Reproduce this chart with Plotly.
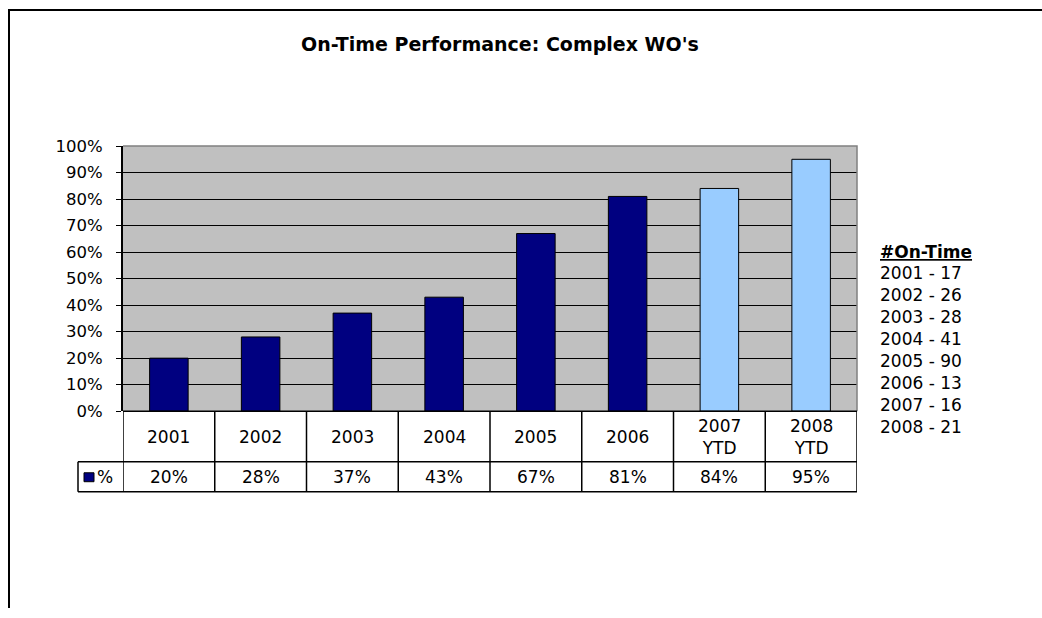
import plotly.graph_objects as go

# chart data
categories = ["2001", "2002", "2003", "2004", "2005", "2006", "2007<br>YTD", "2008<br>YTD"]
pct_on_time = [0.20, 0.28, 0.37, 0.43, 0.67, 0.81, 0.84, 0.95]
bar_colors = ["#000080"] * 6 + ["#99CCFF"] * 2
ontime_years = ["2001", "2002", "2003", "2004", "2005", "2006", "2007", "2008"]
ontime_counts = [17, 26, 28, 41, 90, 13, 16, 21]

W, H = 1042, 618
FONT = "DejaVu Sans, Liberation Sans, Arial, sans-serif"


def px_x(x):
    return x / W


def px_y(y):
    # screenshot squeezes the page a little vertically, so compensate
    yd = (y - 7) / 0.976
    yd = min(max(yd, 1), H)
    return 1 - yd / H


# plot area in pixels
L, R, T, B = 123, 857, 145, 412
ROW1, ROW2 = 463, 493

fig = go.Figure()
xs = list(range(len(categories)))
fig.add_trace(go.Bar(
    x=xs, y=pct_on_time, width=0.42,
    marker={"color": bar_colors, "line": {"color": "black", "width": 1}},
    showlegend=False, hoverinfo="y",
))

shapes = []
ann = []

# outer chart frame (left + top only visible)
shapes.append(dict(type="path", xref="paper", yref="paper",
                   path=f"M {px_x(9)},0 L {px_x(9)},{px_y(6)} L 1,{px_y(6)}",
                   line={"color": "black", "width": 2}))
# plot area top/right border
shapes.append(dict(type="path", xref="paper", yref="paper",
                   path=f"M {px_x(L)},{px_y(T)} L {px_x(R)},{px_y(T)} L {px_x(R)},{px_y(B)}",
                   line={"color": "#808080", "width": 1.5}))

# data table
line = {"color": "black", "width": 1.5}
shapes.append(dict(type="line", xref="paper", yref="paper",
                   x0=px_x(L), x1=px_x(R), y0=px_y(B), y1=px_y(B), line=line))
shapes.append(dict(type="line", xref="paper", yref="paper",
                   x0=px_x(78), x1=px_x(R), y0=px_y(ROW1), y1=px_y(ROW1), line=line))
shapes.append(dict(type="line", xref="paper", yref="paper",
                   x0=px_x(78), x1=px_x(R), y0=px_y(ROW2), y1=px_y(ROW2), line=line))
shapes.append(dict(type="line", xref="paper", yref="paper",
                   x0=px_x(78), x1=px_x(78), y0=px_y(ROW1), y1=px_y(ROW2), line=line))
for i in range(len(categories) + 1):
    shapes.append(dict(type="line", xref="x", yref="paper",
                       x0=i - 0.5, x1=i - 0.5, y0=px_y(B), y1=px_y(ROW2), line=line))

for i, (cat, v) in enumerate(zip(categories, pct_on_time)):
    ann.append(dict(x=i, y=px_y((B + ROW1) / 2), xref="x", yref="paper", text=cat,
                    showarrow=False, font={"size": 17}, yanchor="middle"))
    ann.append(dict(x=i, y=px_y((ROW1 + ROW2) / 2), xref="x", yref="paper", text=f"{v:.0%}",
                    showarrow=False, font={"size": 17}, yanchor="middle"))

# legend key inside table
shapes.append(dict(type="rect", xref="paper", yref="paper",
                   x0=px_x(84), x1=px_x(94), y0=px_y(483), y1=px_y(474),
                   fillcolor="#000080", line={"color": "black", "width": 1}))
ann.append(dict(x=px_x(95), y=px_y((ROW1 + ROW2) / 2), xref="paper", yref="paper", text="%",
                showarrow=False, xanchor="left", yanchor="middle", font={"size": 17}))

# title
ann.append(dict(x=px_x(500), y=px_y(42), xref="paper", yref="paper",
                text="<b>On-Time Performance: Complex WO's</b>", showarrow=False,
                yanchor="middle", font={"size": 19}))

# on-time counts note
ann.append(dict(x=px_x(878), y=px_y(252), xref="paper", yref="paper",
                text="<b><u>#On-Time</u></b>", showarrow=False, xanchor="left",
                yanchor="middle", font={"size": 17}))
for k, (yr, c) in enumerate(zip(ontime_years, ontime_counts)):
    ann.append(dict(x=px_x(878), y=px_y(273 + k * 22.2), xref="paper", yref="paper",
                    text=f"{yr} - {c}", showarrow=False, xanchor="left",
                    yanchor="middle", font={"size": 17}))

fig.update_layout(
    width=W, height=H,
    margin={"l": 0, "r": 0, "t": 0, "b": 0},
    paper_bgcolor="white", plot_bgcolor="#C0C0C0",
    font={"family": FONT, "color": "black", "size": 17},
    xaxis={"domain": [px_x(L), px_x(R)], "range": [-0.5, 7.5], "showticklabels": False,
           "showgrid": False, "zeroline": False, "showline": False, "ticks": ""},
    yaxis={"domain": [px_y(B), px_y(T)], "range": [0, 1], "tickformat": ".0%", "dtick": 0.1,
           "showgrid": True, "gridcolor": "black", "gridwidth": 1, "zeroline": False,
           "showline": True, "linecolor": "black", "linewidth": 2,
           "ticks": "outside", "ticklen": 5, "tickcolor": "black",
           "ticklabelstandoff": 10, "tickfont": {"size": 16.5}},
    shapes=shapes, annotations=ann,
)

# drop the default page margin so the figure sits at the window origin
fig.write_html("out.html", config={"displayModeBar": False},
               post_script="document.body.style.margin='0';document.body.style.overflow='hidden';")
